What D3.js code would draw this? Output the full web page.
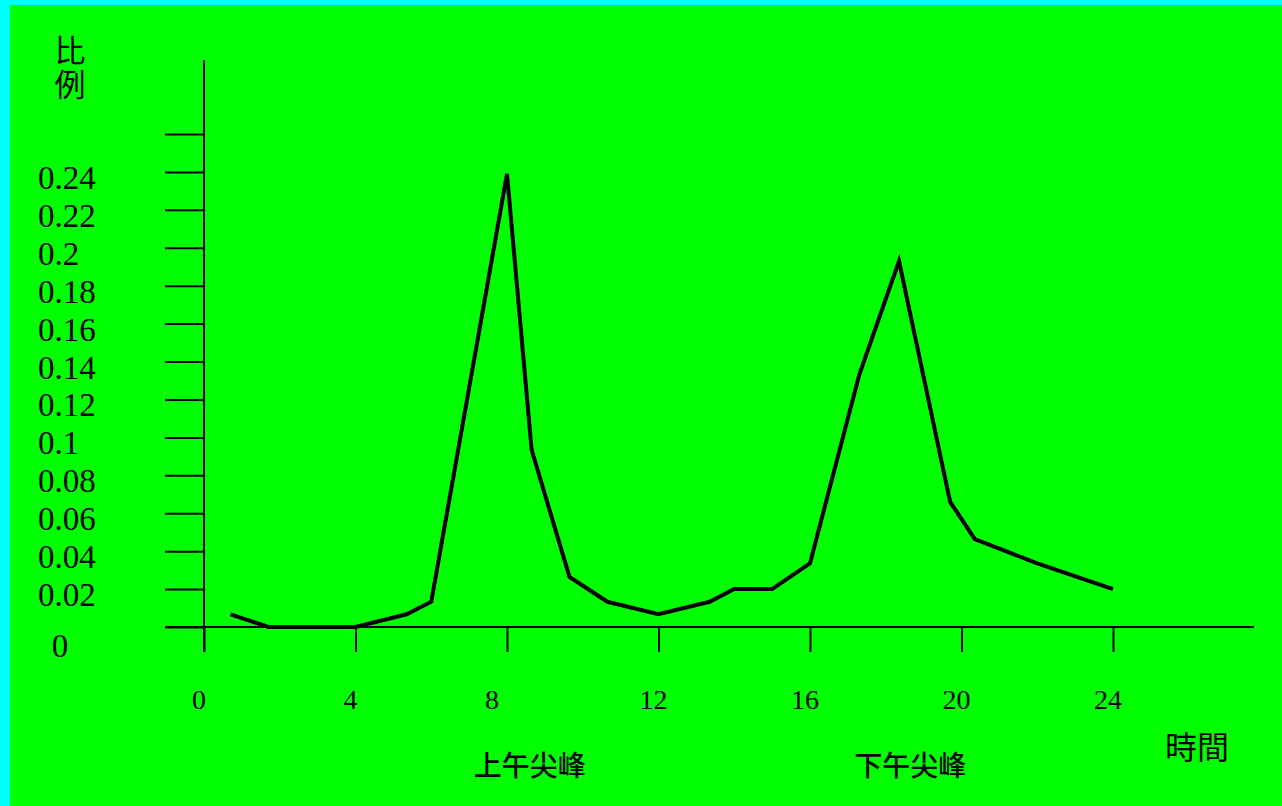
<!DOCTYPE html>
<html>
<head>
<meta charset="utf-8">
<script src="https://cdn.jsdelivr.net/npm/d3@7"></script>
<style>
    body { margin: 0; background: #00ffff; overflow: hidden; }
    svg { display: block; }
</style>
</head>
<body>
<div id="chart"></div>
<script>
// hours of the day and share of trips
const hours = [0.7, 1.7, 4, 5.35, 6, 8, 8.65, 9.65, 10.65, 12, 13.35, 14, 15, 16, 17.3, 18.35, 19.7, 20.35, 22, 24];
const ratios = [0.0067, 0, 0, 0.0067, 0.0133, 0.239, 0.0934, 0.0264, 0.0133, 0.0067, 0.0133, 0.02, 0.02, 0.0336, 0.133, 0.193, 0.066, 0.0464, 0.0336, 0.02];

const xTicks = [0, 4, 8, 12, 16, 20, 24];
const yTicks = [0, 0.02, 0.04, 0.06, 0.08, 0.1, 0.12, 0.14, 0.16, 0.18, 0.2, 0.22, 0.24, 0.26];
const yTickLabels = ['0.02', '0.04', '0.06', '0.08', '0.1', '0.12', '0.14', '0.16', '0.18', '0.2', '0.22', '0.24'];
const peakLabels = ['上午尖峰', '下午尖峰'];
const peakHours = [8.6, 18.65];

const width = 1282, height = 806;

const svg = d3.select('#chart')
    .append('svg')
    .attr('width', width)
    .attr('height', height);

svg.append('rect')
    .attr('x', 10)
    .attr('y', 5)
    .attr('width', width - 10)
    .attr('height', height - 5)
    .attr('fill', '#00ff00');

const xScale = d3.scaleLinear().domain([0, 24]).range([204, 1113]);
const yScale = d3.scaleLinear().domain([0, 0.26]).range([627, 134]);

const axisColor = '#000';
const serif = '"Liberation Serif", "Times New Roman", serif';
const cjk = '"Noto Sans CJK TC", "Noto Sans CJK SC", sans-serif';

// y axis: ticks to the left, line runs past both ends
const yAxisG = svg.append('g')
    .attr('transform', `translate(${xScale(0)},0)`)
    .call(d3.axisLeft(yScale).tickValues(yTicks).tickSize(39).tickSizeOuter(0).tickFormat(''));
yAxisG.select('.domain').remove();
yAxisG.selectAll('line').attr('stroke', axisColor).attr('stroke-width', 2);

svg.append('line')
    .attr('x1', xScale(0)).attr('x2', xScale(0))
    .attr('y1', 60).attr('y2', 652)
    .attr('stroke', axisColor).attr('stroke-width', 2);

// x axis: ticks go down
const xAxisG = svg.append('g')
    .attr('transform', `translate(0,${yScale(0)})`)
    .call(d3.axisBottom(xScale).tickValues(xTicks).tickSize(25).tickSizeOuter(0).tickFormat(''));
xAxisG.select('.domain').remove();
xAxisG.selectAll('line').attr('stroke', axisColor).attr('stroke-width', 2);

svg.append('line')
    .attr('x1', 165).attr('x2', 1254)
    .attr('y1', yScale(0)).attr('y2', yScale(0))
    .attr('stroke', axisColor).attr('stroke-width', 2);

// y tick labels, left aligned
svg.selectAll('.ylabel')
    .data(yTickLabels)
    .enter()
    .append('text')
    .attr('class', 'ylabel')
    .attr('x', 38)
    .attr('y', d => yScale(+d) + 17)
    .style('font-family', serif)
    .style('font-size', '33px')
    .text(d => d);

svg.append('text')
    .attr('x', 60)
    .attr('y', yScale(0) + 30)
    .attr('text-anchor', 'middle')
    .style('font-family', serif)
    .style('font-size', '33px')
    .text('0');

// x tick labels (the "8" sits a little left in the original)
const xLabelNudge = {8: -10};
svg.selectAll('.xlabel')
    .data(xTicks)
    .enter()
    .append('text')
    .attr('class', 'xlabel')
    .attr('x', d => xScale(d) - 5 + (xLabelNudge[d] || 0))
    .attr('y', 709)
    .attr('text-anchor', 'middle')
    .style('font-family', serif)
    .style('font-size', '28px')
    .text(d => d);

// axis titles - the y title is stacked vertically
svg.append('text')
    .attr('x', 70)
    .attr('y', 35)
    .style('writing-mode', 'vertical-rl')
    .style('text-orientation', 'upright')
    .style('letter-spacing', '3px')
    .style('font-family', cjk)
    .style('font-size', '31px')
    .text('比例');

svg.append('text')
    .attr('x', 1197).attr('y', 759)
    .attr('text-anchor', 'middle')
    .style('font-family', cjk).style('font-size', '32px')
    .text('時間');

svg.selectAll('.peak')
    .data(peakLabels)
    .enter()
    .append('text')
    .attr('class', 'peak')
    .attr('x', (d, i) => xScale(peakHours[i]))
    .attr('y', 776)
    .attr('text-anchor', 'middle')
    .style('font-family', cjk)
    .style('font-size', '28px')
    .style('font-weight', 500)
    .text(d => d);

// the data line
const line = d3.line()
    .x((d, i) => xScale(hours[i]))
    .y(d => yScale(d));

svg.append('path')
    .datum(ratios)
    .attr('d', line)
    .attr('fill', 'none')
    .attr('stroke', '#000')
    .attr('stroke-width', 4);
</script>
</body>
</html>
